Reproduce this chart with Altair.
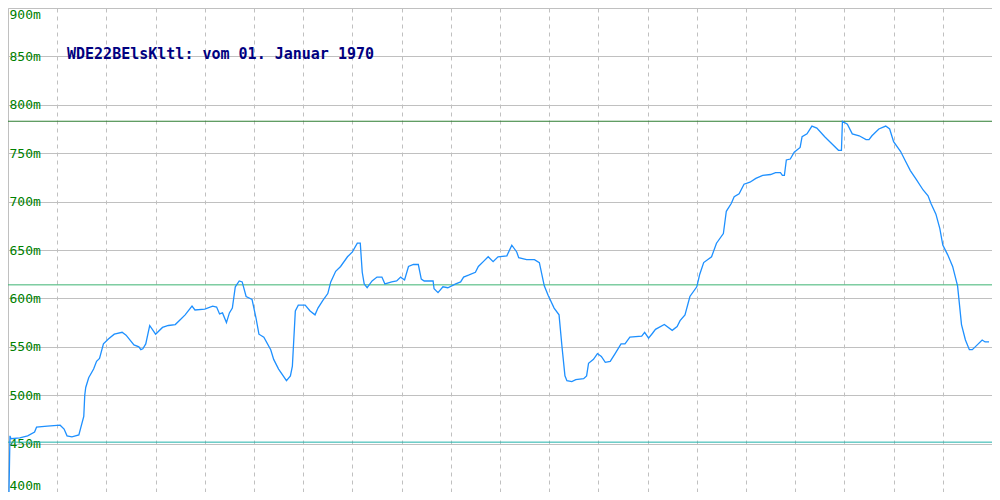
import altair as alt
import pandas as pd

# distance (reference pixel units along the track) and elevation in metres
dist = [1, 2, 3, 12, 20, 27, 29, 40, 53, 57, 60, 65, 72, 77, 78, 79, 82, 87, 90, 93,
        97, 102, 108, 116, 120, 128, 133, 135, 137, 140, 144, 150, 157, 163, 170, 175,
        180, 187, 190, 200, 208, 212, 215, 218, 222, 225, 228, 231, 235, 238, 242, 248,
        252, 255, 260, 267, 270, 275, 283, 287, 289, 292, 295, 302, 307, 312, 315, 320,
        325, 328, 333, 338, 345, 350, 355, 358, 360, 362, 365, 370, 375, 380, 383, 390,
        395, 399, 403, 407, 412, 417, 420, 423, 432, 433, 437, 442, 447, 455, 460, 463,
        468, 475, 478, 483, 488, 493, 498, 507, 512, 517, 519, 527, 535, 540, 545, 549,
        555, 560, 563, 566, 568, 573, 577, 585, 588, 590, 595, 599, 603, 607, 612, 617,
        623, 627, 632, 644, 647, 651, 655, 658, 667, 675, 680, 683, 688, 693, 700, 703,
        707, 715, 720, 727, 730, 735, 738, 743, 748, 754, 760, 767, 775, 780, 785, 787,
        789, 791, 795, 799, 805, 807, 812, 817, 822, 830, 838, 844, 847, 848, 853, 858,
        865, 872, 875, 878, 885, 892, 896, 900, 907, 912, 917, 923, 930, 935, 938, 943,
        947, 950, 955, 960, 965, 967, 969, 973, 977, 980, 985, 990, 993, 997]
elev = [400, 458, 455, 456, 458, 462, 467, 468, 469, 465, 458, 457, 459, 478, 500, 508, 518, 527, 535, 538,
        553, 558, 563, 565, 562, 552, 550, 547, 548, 553, 572, 563, 570, 572, 573, 578,
        583, 592, 588, 589, 592, 591, 584, 585, 575, 585, 590, 612, 618, 617, 602, 599,
        580, 563, 560, 547, 537, 527, 515, 520, 530, 587, 593, 593, 587, 583, 590, 598,
        605, 617, 628, 633, 643, 648, 657, 657, 627, 615, 611, 618, 622, 622, 615, 617,
        618, 622, 619, 633, 635, 635, 620, 618, 618, 610, 606, 612, 611, 615, 617, 622,
        624, 627, 633, 638, 643, 638, 643, 644, 655, 648, 642, 640, 640, 637, 613, 603,
        590, 583, 550, 520, 515, 514, 516, 517, 520, 533, 537, 543, 540, 534, 535, 543,
        553, 553, 560, 561, 565, 559, 564, 568, 573, 567, 571, 577, 583, 602, 612, 625,
        637, 643, 657, 667, 690, 698, 705, 708, 718, 720, 724, 727, 728, 730, 730, 727,
        727, 743, 744, 751, 756, 767, 770, 778, 776, 767, 759, 753, 753, 783, 780, 770,
        768, 764, 764, 768, 775, 778, 775, 762, 752, 742, 732, 723, 712, 706, 698, 687,
        672, 655, 645, 633, 613, 593, 573, 557, 547, 547, 552, 557, 555, 555]

ref_levels = [783, 614, 451.5]
ref_colors = ["#2e7d32", "#3cb371", "#20b2aa"]
y_ticks = [400, 450, 500, 550, 600, 650, 700, 750, 800, 850, 900]
x_ticks = [50, 100, 150, 200, 250, 300, 350, 400, 450, 500, 550, 600, 650, 700, 750, 800, 850, 900, 950]
title_text = "WDE22BElsKltl: vom 01. Januar 1970"

W, H = 984, 484

df = pd.DataFrame({"x": dist, "y": elev})
refs = pd.DataFrame({"y": ref_levels, "c": ref_colors})
ttl = pd.DataFrame({"t": [title_text]})

xs = alt.Scale(domain=[0, 1000], nice=False, zero=False)
ys = alt.Scale(domain=[400, 900], nice=False, zero=False)

xaxis = alt.Axis(values=x_ticks, grid=True, gridDash=[4, 4], gridColor="#c0c0c0",
                 gridWidth=1, labels=False, ticks=False, domain=False, title=None)
yaxis = alt.Axis(values=y_ticks, grid=True, gridColor="#c0c0c0", gridWidth=1,
                 labelAlign="left", labelPadding=-1, ticks=False, domain=False,
                 labelFlush=True, labelFlushOffset=0, labelColor="#008000",
                 labelFont="DejaVu Sans Mono", labelFontSize=13, labelFontWeight="normal",
                 labelExpr="datum.value + 'm'", title=None)

rules = alt.Chart(refs).mark_rule(strokeWidth=1).encode(
    y=alt.Y("y:Q", scale=ys, axis=yaxis),
    color=alt.Color("c:N", scale=None),
)

line = alt.Chart(df).mark_line(color="#1e90ff", strokeWidth=1.3, clip=True).encode(
    x=alt.X("x:Q", scale=xs, axis=xaxis),
    y=alt.Y("y:Q", scale=ys, axis=yaxis),
)

title = alt.Chart(ttl).mark_text(
    align="left", baseline="alphabetic", font="DejaVu Sans Mono",
    fontSize=15, fontWeight="bold", color="#000080",
).encode(text="t:N", x=alt.value(59), y=alt.value(51))

chart = alt.layer(rules, line, title).properties(
    width=W, height=H,
    autosize=alt.AutoSizeParams(type="none"),
    padding=0,
    background="white",
).configure_view(stroke="#c0c0c0", strokeWidth=1)

chart.save("out.html", embed_options={"renderer": "svg", "actions": False})
